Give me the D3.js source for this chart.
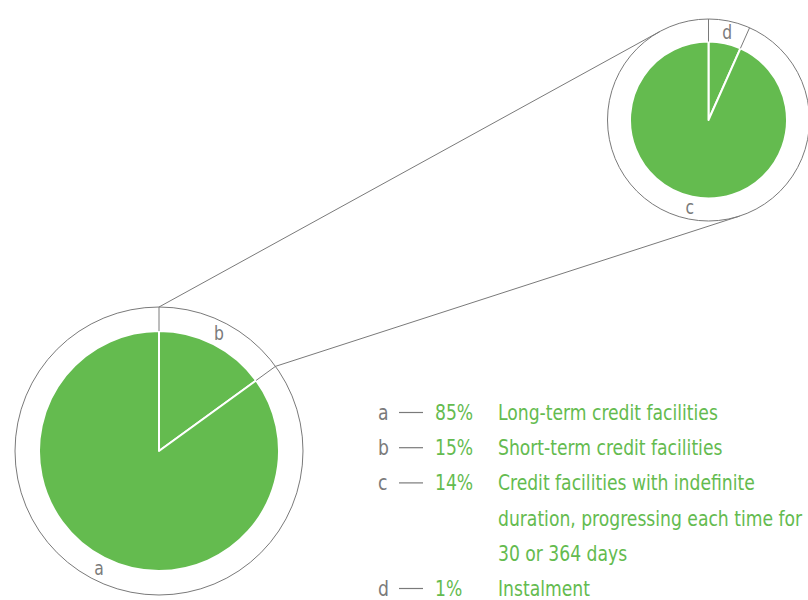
<!DOCTYPE html>
<html>
<head>
<meta charset="utf-8">
<script src="https://cdn.jsdelivr.net/npm/d3@7/dist/d3.min.js"></script>
<style>
  html, body { margin: 0; padding: 0; background: #fff; }
  svg { display: block; }
  text { font-family: "DejaVu Sans Condensed", "DejaVu Sans", sans-serif; font-stretch: condensed; }
</style>
</head>
<body>
<svg id="chart" width="808" height="600"></svg>
<script>
// Credit facility breakdown: main split and the detail of the short-term part
const mainKeys = ["b", "a"];
const mainValues = [15, 85];
const detailKeys = ["d", "c"];
const detailValues = [1, 14];

const legendKeys = ["a", "b", "c", "d"];
const legendValues = [85, 15, 14, 1];
const legendText = [
  ["Long-term credit facilities"],
  ["Short-term credit facilities"],
  ["Credit facilities with indefinite", "duration, progressing each time for", "30 or 364 days"],
  ["Instalment"]
];

const GREEN = "#64bb4f";
const GREY = "#7a7a7a";
const NARROW = 0.91; // horizontal squeeze for a tall, narrow type look

const svg = d3.select("#chart");

const mainPie = { cx: 159, cy: 451, r: 120, R: 144 };
const detailPie = { cx: 708.5, cy: 120, r: 78.5, R: 101 };

function drawPie(cfg, keys, values) {
  const g = svg.append("g").attr("transform", `translate(${cfg.cx},${cfg.cy})`);
  const arcs = d3.pie().sort(null)(values);
  const arc = d3.arc().innerRadius(0).outerRadius(cfg.r);
  const labelArc = d3.arc().innerRadius(cfg.r).outerRadius(cfg.R);

  // outer ring
  g.append("circle").attr("r", cfg.R)
    .attr("fill", "none").attr("stroke", GREY).attr("stroke-width", 1);

  // green slices split by white edges
  g.selectAll("path.slice").data(arcs).join("path")
    .attr("class", "slice")
    .attr("d", arc)
    .attr("fill", GREEN)
    .attr("stroke", "#fff").attr("stroke-width", 2).attr("stroke-linejoin", "round");

  // slice boundaries carried through the ring
  const bounds = arcs.map(d => d.startAngle);
  g.selectAll("line.bound").data(bounds).join("line")
    .attr("class", "bound")
    .attr("x1", a => cfg.r * Math.sin(a)).attr("y1", a => -cfg.r * Math.cos(a))
    .attr("x2", a => cfg.R * Math.sin(a)).attr("y2", a => -cfg.R * Math.cos(a))
    .attr("stroke", GREY).attr("stroke-width", 1);

  // slice letters in the ring
  g.selectAll("text.key").data(arcs).join("text")
    .attr("class", "key")
    .attr("transform", d => `translate(${labelArc.centroid(d)}) scale(${NARROW},1)`)
    .attr("text-anchor", "middle").attr("dy", "0.35em")
    .attr("fill", GREY).attr("font-size", 19)
    .text((d, i) => keys[i]);

  return arcs;
}

const mainArcs = drawPie(mainPie, mainKeys, mainValues);
drawPie(detailPie, detailKeys, detailValues);

// connectors: from the edges of slice b to tangents of the detail ring
function tangentPoint(px, py, c, side) {
  const dx = px - c.cx, dy = py - c.cy;
  const d = Math.hypot(dx, dy);
  const alpha = Math.acos(c.R / d);
  const base = Math.atan2(dy, dx);
  const t = base + side * alpha;
  return [c.cx + c.R * Math.cos(t), c.cy + c.R * Math.sin(t)];
}
const bArc = mainArcs[0];
const edgeAngles = [bArc.startAngle, bArc.endAngle];
const sides = [1, -1];
edgeAngles.forEach((a, i) => {
  const px = mainPie.cx + mainPie.R * Math.sin(a);
  const py = mainPie.cy - mainPie.R * Math.cos(a);
  const [tx, ty] = tangentPoint(px, py, detailPie, sides[i]);
  svg.append("line")
    .attr("x1", px).attr("y1", py).attr("x2", tx).attr("y2", ty)
    .attr("stroke", GREY).attr("stroke-width", 1);
});

// legend
const lg = svg.append("g").attr("font-size", 21);
const rowStep = 35.2;
function legendLabel(x, y, color, str) {
  lg.append("text")
    .attr("transform", `translate(${x},${y}) scale(${NARROW},1)`)
    .attr("fill", color).text(str);
}
let row = 0;
legendKeys.forEach((k, i) => {
  const y = 420 + row * rowStep;
  legendLabel(378, y, GREY, k);
  lg.append("line").attr("x1", 399).attr("x2", 423)
    .attr("y1", y - 7.5).attr("y2", y - 7.5)
    .attr("stroke", GREY).attr("stroke-width", 1.2);
  legendLabel(435, y, GREEN, legendValues[i] + "%");
  legendText[i].forEach((line, j) => {
    legendLabel(498, y + j * rowStep, GREEN, line);
  });
  row += legendText[i].length;
});
</script>
</body>
</html>
